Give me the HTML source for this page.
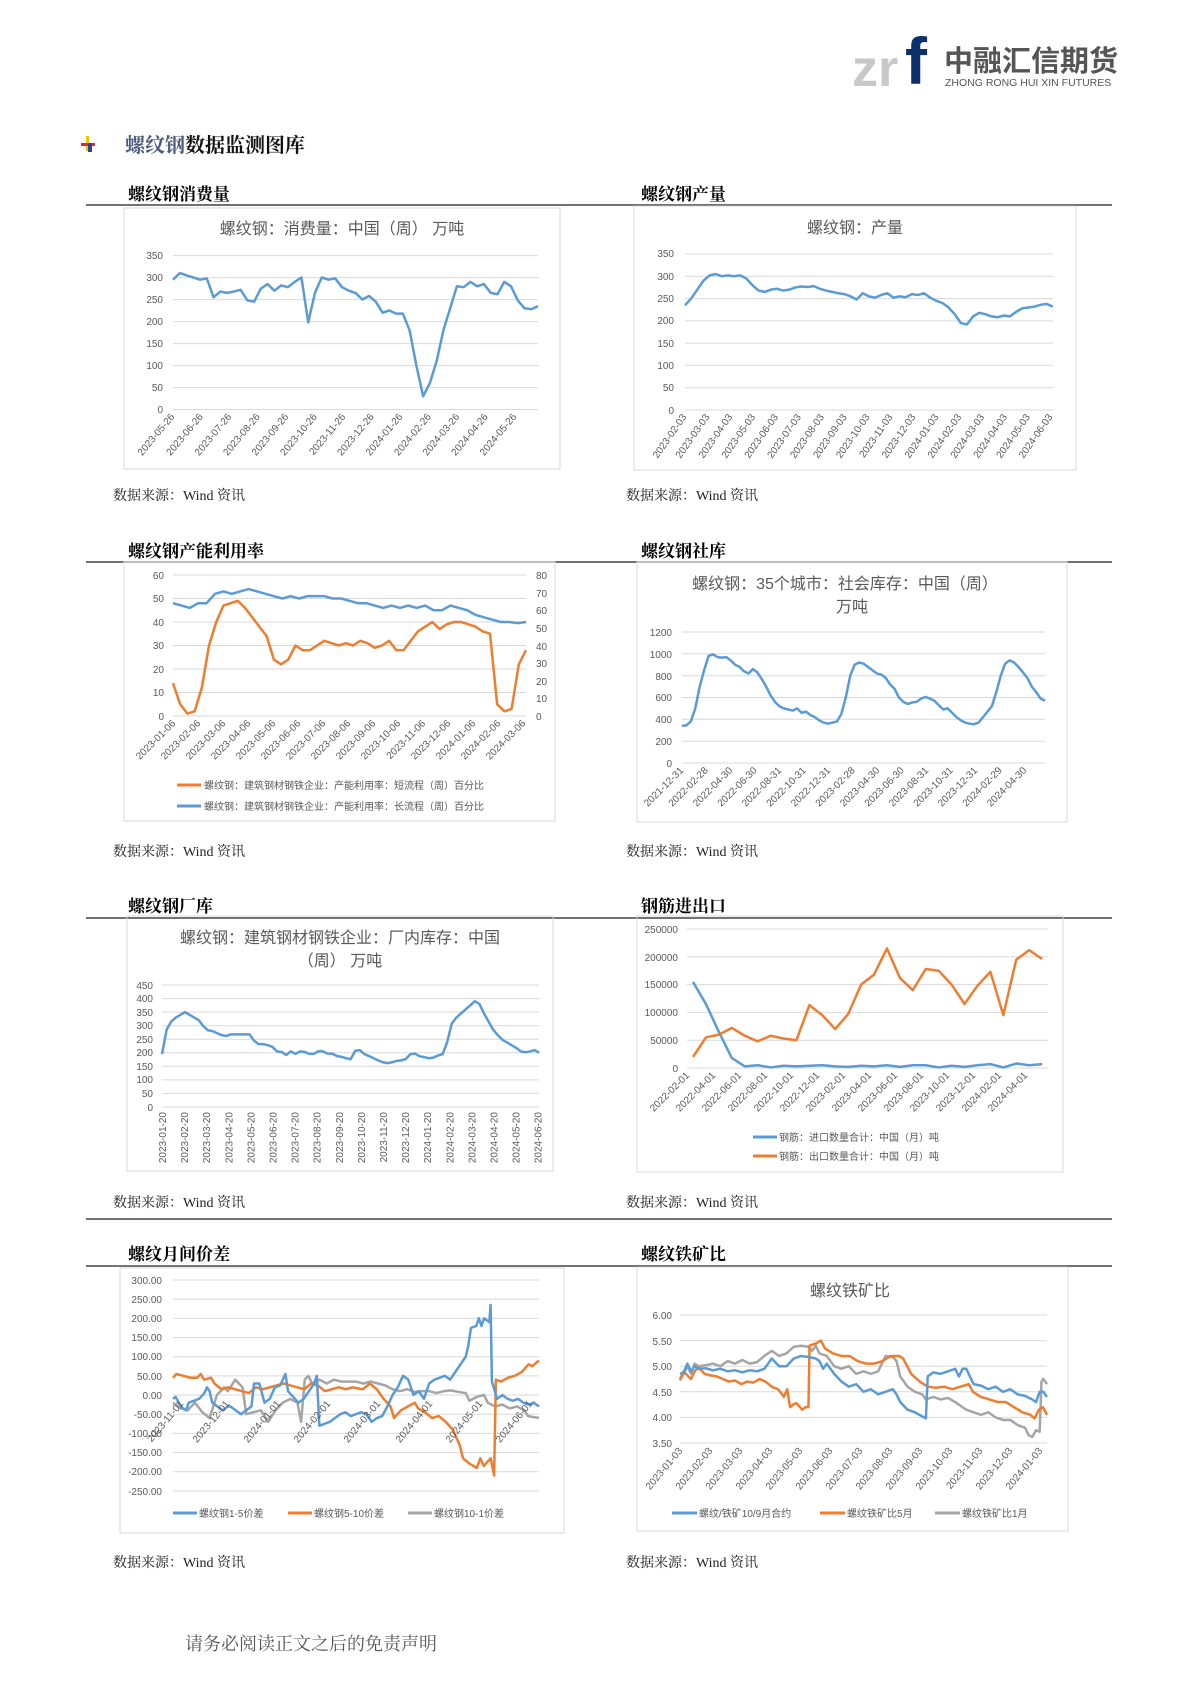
<!DOCTYPE html>
<html><head><meta charset="utf-8"><style>
html,body{margin:0;padding:0;background:#fff;}
svg{display:block;}
.t{font-family:"Liberation Sans","Noto Sans CJK SC",sans-serif;fill:#595959;font-size:10px;}
.ti{font-family:"Liberation Sans","Noto Sans CJK SC",sans-serif;fill:#595959;font-size:16px;}
.h{font-family:"Noto Serif CJK SC","Noto Sans CJK SC",serif;font-weight:bold;fill:#000;font-size:17px;}
.s{font-family:"Liberation Serif","Noto Serif CJK SC",serif;fill:#222;font-size:14px;}
.g{stroke:#d9d9d9;stroke-width:1;}
.box{fill:none;stroke:#d9d9d9;stroke-width:1;}
.l{fill:none;stroke-width:2.5;vector-effect:non-scaling-stroke;stroke-linejoin:round;}
.b{stroke:#5b9bd5;}.o{stroke:#ed7d31;}.y{stroke:#a5a5a5;}
</style></head><body>
<svg width="1190" height="1683" viewBox="0 0 1190 1683" xmlns="http://www.w3.org/2000/svg">
<!-- logo -->
<text x="852" y="86" font-family="Liberation Sans,sans-serif" font-weight="bold" font-size="52" fill="#c8c8c8">zr</text>
<text x="905" y="84" font-family="Liberation Sans,sans-serif" font-weight="bold" font-size="66" fill="#0d2f6b">f</text>
<text x="944" y="71" font-family="Noto Sans CJK SC,sans-serif" font-weight="bold" font-size="29" fill="#555">中融汇信期货</text>
<text x="945" y="86" font-family="Liberation Sans,sans-serif" font-size="10.5" fill="#555">ZHONG RONG HUI XIN FUTURES</text>
<!-- main title -->
<rect x="86" y="136" width="3" height="15" fill="#f2c200"/><rect x="81" y="143" width="14" height="3" fill="#d03030"/><rect x="88" y="143" width="4" height="9" fill="#3040a0"/>
<text x="125" y="152" font-family="Noto Serif CJK SC,serif" font-weight="bold" font-size="20"><tspan fill="#4a5a7a">螺纹钢</tspan><tspan fill="#111">数据监测图库</tspan></text>

<!-- section rows -->
<text class="h" x="128" y="200">螺纹钢消费量</text><text class="h" x="641" y="200">螺纹钢产量</text>
<line x1="86" y1="205" x2="1112" y2="205" stroke="#444" stroke-width="1.5"/>
<text class="s" x="113" y="500">数据来源：Wind 资讯</text><text class="s" x="626" y="500">数据来源：Wind 资讯</text>

<text class="h" x="128" y="557">螺纹钢产能利用率</text><text class="h" x="641" y="557">螺纹钢社库</text>
<line x1="86" y1="562" x2="1112" y2="562" stroke="#444" stroke-width="1.5"/>
<text class="s" x="113" y="856">数据来源：Wind 资讯</text><text class="s" x="626" y="856">数据来源：Wind 资讯</text>

<text class="h" x="128" y="912">螺纹钢厂库</text><text class="h" x="641" y="912">钢筋进出口</text>
<line x1="86" y1="918" x2="1112" y2="918" stroke="#444" stroke-width="1.5"/>
<text class="s" x="113" y="1207">数据来源：Wind 资讯</text><text class="s" x="626" y="1207">数据来源：Wind 资讯</text>
<line x1="86" y1="1219" x2="1112" y2="1219" stroke="#444" stroke-width="1.5"/>

<text class="h" x="128" y="1260">螺纹月间价差</text><text class="h" x="641" y="1260">螺纹铁矿比</text>
<line x1="86" y1="1266" x2="1112" y2="1266" stroke="#444" stroke-width="1.5"/>
<text class="s" x="113" y="1567">数据来源：Wind 资讯</text><text class="s" x="626" y="1567">数据来源：Wind 资讯</text>
<text x="185" y="1650" font-family="Noto Serif CJK SC,serif" font-size="18" fill="#555">请务必阅读正文之后的免责声明</text>

<!-- CHART 1 -->
<rect class="box" x="124" y="208" width="436" height="261"/>
<text class="ti" x="342" y="234" text-anchor="middle">螺纹钢：消费量：中国（周） 万吨</text>
<g class="g"><line x1="173" x2="538" y1="255.6" y2="255.6"/><line x1="173" x2="538" y1="277.6" y2="277.6"/><line x1="173" x2="538" y1="299.6" y2="299.6"/><line x1="173" x2="538" y1="321.6" y2="321.6"/><line x1="173" x2="538" y1="343.6" y2="343.6"/><line x1="173" x2="538" y1="365.6" y2="365.6"/><line x1="173" x2="538" y1="387.6" y2="387.6"/><line x1="173" x2="538" y1="409.5" y2="409.5"/></g>
<g class="t" text-anchor="end"><text x="163" y="259">350</text><text x="163" y="281">300</text><text x="163" y="303">250</text><text x="163" y="325">200</text><text x="163" y="347">150</text><text x="163" y="369">100</text><text x="163" y="391">50</text><text x="163" y="413">0</text></g>
<polyline class="l b" transform="translate(173,409.5) scale(6.76,-0.44)" points="0,295 1,310 2,305 3,300 4,295 5,298 6,255 7,268 8,265 9,268 10,272 11,248 12,245 13,275 14,285 15,270 16,282 17,278 18,290 19,300 20,198 21,265 22,300 23,295 24,298 25,278 26,270 27,265 28,250 29,258 30,245 31,220 32,225 33,218 34,218 35,180 36,100 37,30 38,60 39,110 40,180 41,230 42,280 43,278 44,290 45,280 46,285 47,265 48,262 49,290 50,280 51,248 52,230 53,228 54,235"/>
<g class="t">
<text transform="translate(175,417) rotate(-50)" text-anchor="end">2023-05-26</text><text transform="translate(203.5,417) rotate(-50)" text-anchor="end">2023-06-26</text><text transform="translate(232,417) rotate(-50)" text-anchor="end">2023-07-26</text><text transform="translate(260.5,417) rotate(-50)" text-anchor="end">2023-08-26</text><text transform="translate(289,417) rotate(-50)" text-anchor="end">2023-09-26</text><text transform="translate(317.5,417) rotate(-50)" text-anchor="end">2023-10-26</text><text transform="translate(346,417) rotate(-50)" text-anchor="end">2023-11-26</text><text transform="translate(374.5,417) rotate(-50)" text-anchor="end">2023-12-26</text><text transform="translate(403,417) rotate(-50)" text-anchor="end">2024-01-26</text><text transform="translate(431.5,417) rotate(-50)" text-anchor="end">2024-02-26</text><text transform="translate(460,417) rotate(-50)" text-anchor="end">2024-03-26</text><text transform="translate(488.5,417) rotate(-50)" text-anchor="end">2024-04-26</text><text transform="translate(517,417) rotate(-50)" text-anchor="end">2024-05-26</text></g>

<!-- CHART 2 -->
<rect class="box" x="634" y="206" width="442" height="264"/>
<text class="ti" x="855" y="233" text-anchor="middle">螺纹钢：产量</text>
<g class="g"><line x1="685" x2="1053" y1="254" y2="254"/><line x1="685" x2="1053" y1="276.3" y2="276.3"/><line x1="685" x2="1053" y1="298.6" y2="298.6"/><line x1="685" x2="1053" y1="320.9" y2="320.9"/><line x1="685" x2="1053" y1="343.1" y2="343.1"/><line x1="685" x2="1053" y1="365.4" y2="365.4"/><line x1="685" x2="1053" y1="387.7" y2="387.7"/><line x1="685" x2="1053" y1="410" y2="410"/></g>
<g class="t" text-anchor="end"><text x="674" y="257">350</text><text x="674" y="280">300</text><text x="674" y="302">250</text><text x="674" y="324">200</text><text x="674" y="347">150</text><text x="674" y="369">100</text><text x="674" y="391">50</text><text x="674" y="414">0</text></g>
<polyline class="l b" transform="translate(685,410) scale(6.13,-0.4457)" points="0,235 1,250 2,270 3,290 4,302 5,305 6,300 7,302 8,300 9,302 10,295 11,280 12,268 13,265 14,270 15,272 16,268 17,270 18,275 19,277 20,276 21,278 22,272 23,268 24,265 25,262 26,260 27,255 28,248 29,262 30,255 31,252 32,258 33,262 34,252 35,255 36,253 37,260 38,258 39,262 40,252 41,245 42,240 43,230 44,215 45,195 46,192 47,210 48,218 49,215 50,210 51,208 52,212 53,210 54,220 55,228 56,230 57,232 58,236 59,238 60,232"/>
<g class="t">
<text transform="translate(687,417) rotate(-55)" text-anchor="end">2023-02-03</text><text transform="translate(709.9,417) rotate(-55)" text-anchor="end">2023-03-03</text><text transform="translate(732.8,417) rotate(-55)" text-anchor="end">2023-04-03</text><text transform="translate(755.7,417) rotate(-55)" text-anchor="end">2023-05-03</text><text transform="translate(778.6,417) rotate(-55)" text-anchor="end">2023-06-03</text><text transform="translate(801.5,417) rotate(-55)" text-anchor="end">2023-07-03</text><text transform="translate(824.4,417) rotate(-55)" text-anchor="end">2023-08-03</text><text transform="translate(847.3,417) rotate(-55)" text-anchor="end">2023-09-03</text><text transform="translate(870.2,417) rotate(-55)" text-anchor="end">2023-10-03</text><text transform="translate(893.1,417) rotate(-55)" text-anchor="end">2023-11-03</text><text transform="translate(916,417) rotate(-55)" text-anchor="end">2023-12-03</text><text transform="translate(938.9,417) rotate(-55)" text-anchor="end">2024-01-03</text><text transform="translate(961.8,417) rotate(-55)" text-anchor="end">2024-02-03</text><text transform="translate(984.7,417) rotate(-55)" text-anchor="end">2024-03-03</text><text transform="translate(1007.6,417) rotate(-55)" text-anchor="end">2024-04-03</text><text transform="translate(1030.5,417) rotate(-55)" text-anchor="end">2024-05-03</text><text transform="translate(1053,417) rotate(-55)" text-anchor="end">2024-06-03</text></g>

<!-- CHART 3 -->
<rect class="box" x="124" y="562" width="431" height="259"/>
<g class="g"><line x1="173" x2="526" y1="575" y2="575"/><line x1="173" x2="526" y1="598.5" y2="598.5"/><line x1="173" x2="526" y1="622" y2="622"/><line x1="173" x2="526" y1="645.5" y2="645.5"/><line x1="173" x2="526" y1="669" y2="669"/><line x1="173" x2="526" y1="692.5" y2="692.5"/><line x1="173" x2="526" y1="716" y2="716"/></g>
<g class="t" text-anchor="end"><text x="164" y="579">60</text><text x="164" y="602">50</text><text x="164" y="626">40</text><text x="164" y="649">30</text><text x="164" y="673">20</text><text x="164" y="696">10</text><text x="164" y="720">0</text></g>
<g class="t"><text x="536" y="579">80</text><text x="536" y="597">70</text><text x="536" y="614">60</text><text x="536" y="632">50</text><text x="536" y="650">40</text><text x="536" y="667">30</text><text x="536" y="685">20</text><text x="536" y="702">10</text><text x="536" y="720">0</text></g>
<polyline class="l b" transform="translate(173,716) scale(8.405,-2.35)" points="0,48 1,47 2,46 3,48 4,48 5,52 6,53 7,52 8,53 9,54 10,53 11,52 12,51 13,50 14,51 15,50 16,51 17,51 18,51 19,50 20,50 21,49 22,48 23,48 24,47 25,46 26,47 27,46 28,47 29,46 30,47 31,45 32,45 33,47 34,46 35,45 36,43 37,42 38,41 39,40 40,40 41,39.5 42,40"/>
<polyline class="l o" transform="translate(173,716) scale(7.204,-2.35)" points="0,14 1,5 2,1 3,2 4,12 5,30 6,40 7,47 8,48 9,49 10,46 11,42 12,38 13,34 14,24 15,22 16,24 17,30 18,28 19,28 20,30 21,32 22,31 23,30 24,31 25,30 26,32 27,31 28,29 29,30 30,32 31,28 32,28 33,32 34,36 35,38 36,40 37,37 38,39 39,40 40,40 41,39 42,38 43,36 44,35 45,5 46,2 47,3 48,22 49,28"/>
<g class="t">
<text transform="translate(176,724) rotate(-45)" text-anchor="end">2023-01-06</text><text transform="translate(201,724) rotate(-45)" text-anchor="end">2023-02-06</text><text transform="translate(226,724) rotate(-45)" text-anchor="end">2023-03-06</text><text transform="translate(251,724) rotate(-45)" text-anchor="end">2023-04-06</text><text transform="translate(276,724) rotate(-45)" text-anchor="end">2023-05-06</text><text transform="translate(301,724) rotate(-45)" text-anchor="end">2023-06-06</text><text transform="translate(326,724) rotate(-45)" text-anchor="end">2023-07-06</text><text transform="translate(351,724) rotate(-45)" text-anchor="end">2023-08-06</text><text transform="translate(376,724) rotate(-45)" text-anchor="end">2023-09-06</text><text transform="translate(401,724) rotate(-45)" text-anchor="end">2023-10-06</text><text transform="translate(426,724) rotate(-45)" text-anchor="end">2023-11-06</text><text transform="translate(451,724) rotate(-45)" text-anchor="end">2023-12-06</text><text transform="translate(476,724) rotate(-45)" text-anchor="end">2024-01-06</text><text transform="translate(501,724) rotate(-45)" text-anchor="end">2024-02-06</text><text transform="translate(526,724) rotate(-45)" text-anchor="end">2024-03-06</text></g>
<line x1="177" x2="201" y1="785" y2="785" stroke="#ed7d31" stroke-width="3"/><text class="t" x="204" y="789">螺纹钢：建筑钢材钢铁企业：产能利用率：短流程（周）百分比</text>
<line x1="177" x2="201" y1="806" y2="806" stroke="#5b9bd5" stroke-width="3"/><text class="t" x="204" y="810">螺纹钢：建筑钢材钢铁企业：产能利用率：长流程（周）百分比</text>

<!-- CHART 4 -->
<rect class="box" x="637" y="562" width="430" height="260"/>
<text class="ti" x="845" y="589" text-anchor="middle">螺纹钢：35个城市：社会库存：中国（周）</text>
<text class="ti" x="852" y="612" text-anchor="middle">万吨</text>
<g class="g"><line x1="682" x2="1045" y1="632" y2="632"/><line x1="682" x2="1045" y1="653.8" y2="653.8"/><line x1="682" x2="1045" y1="675.7" y2="675.7"/><line x1="682" x2="1045" y1="697.5" y2="697.5"/><line x1="682" x2="1045" y1="719.3" y2="719.3"/><line x1="682" x2="1045" y1="741.2" y2="741.2"/><line x1="682" x2="1045" y1="763" y2="763"/></g>
<g class="t" text-anchor="end"><text x="672" y="636">1200</text><text x="672" y="658">1000</text><text x="672" y="680">800</text><text x="672" y="701">600</text><text x="672" y="723">400</text><text x="672" y="745">200</text><text x="672" y="767">0</text></g>
<polyline class="l b" transform="translate(682,763) scale(4.427,-0.1092)" points="0,340 1,345 2,380 3,500 4,700 5,850 6,980 7,995 8,970 9,965 10,970 11,940 12,900 13,880 14,840 15,820 16,860 17,830 18,770 19,700 20,620 21,560 22,520 23,500 24,490 25,480 26,500 27,460 28,470 29,440 30,420 31,390 32,370 33,360 34,370 35,380 36,450 37,600 38,800 39,900 40,920 41,910 42,880 43,850 44,820 45,810 46,780 47,720 48,680 49,600 50,560 51,540 52,555 53,560 54,590 55,605 56,590 57,570 58,530 59,490 60,500 61,460 62,420 63,390 64,370 65,360 66,355 67,370 68,420 69,470 70,520 71,650 72,800 73,910 74,940 75,920 76,880 77,830 78,780 79,700 80,650 81,590 82,570"/>
<g class="t">
<text transform="translate(684,771) rotate(-45)" text-anchor="end">2021-12-31</text><text transform="translate(708.5,771) rotate(-45)" text-anchor="end">2022-02-28</text><text transform="translate(733,771) rotate(-45)" text-anchor="end">2022-04-30</text><text transform="translate(757.5,771) rotate(-45)" text-anchor="end">2022-06-30</text><text transform="translate(782,771) rotate(-45)" text-anchor="end">2022-08-31</text><text transform="translate(806.5,771) rotate(-45)" text-anchor="end">2022-10-31</text><text transform="translate(831,771) rotate(-45)" text-anchor="end">2022-12-31</text><text transform="translate(855.5,771) rotate(-45)" text-anchor="end">2023-02-28</text><text transform="translate(880,771) rotate(-45)" text-anchor="end">2023-04-30</text><text transform="translate(904.5,771) rotate(-45)" text-anchor="end">2023-06-30</text><text transform="translate(929,771) rotate(-45)" text-anchor="end">2023-08-31</text><text transform="translate(953.5,771) rotate(-45)" text-anchor="end">2023-10-31</text><text transform="translate(978,771) rotate(-45)" text-anchor="end">2023-12-31</text><text transform="translate(1002.5,771) rotate(-45)" text-anchor="end">2024-02-29</text><text transform="translate(1027,771) rotate(-45)" text-anchor="end">2024-04-30</text></g>

<!-- CHART 5 -->
<rect class="box" x="127" y="916" width="426" height="255"/>
<text class="ti" x="340" y="943" text-anchor="middle">螺纹钢：建筑钢材钢铁企业：厂内库存：中国</text>
<text class="ti" x="340" y="966" text-anchor="middle">（周） 万吨</text>
<g class="g"><line x1="162" x2="539" y1="985" y2="985"/><line x1="162" x2="539" y1="998.6" y2="998.6"/><line x1="162" x2="539" y1="1012.1" y2="1012.1"/><line x1="162" x2="539" y1="1025.7" y2="1025.7"/><line x1="162" x2="539" y1="1039.2" y2="1039.2"/><line x1="162" x2="539" y1="1052.8" y2="1052.8"/><line x1="162" x2="539" y1="1066.3" y2="1066.3"/><line x1="162" x2="539" y1="1079.9" y2="1079.9"/><line x1="162" x2="539" y1="1093.4" y2="1093.4"/><line x1="162" x2="539" y1="1107" y2="1107"/></g>
<g class="t" text-anchor="end"><text x="153" y="989">450</text><text x="153" y="1002">400</text><text x="153" y="1016">350</text><text x="153" y="1029">300</text><text x="153" y="1043">250</text><text x="153" y="1056">200</text><text x="153" y="1070">150</text><text x="153" y="1083">100</text><text x="153" y="1097">50</text><text x="153" y="1111">0</text></g>
<polyline class="l b" transform="translate(162,1107) scale(4.6,-0.2711)" points="0,195 1,285 2,315 3,330 4,340 5,350 6,340 7,330 8,320 9,298 10,283 11,280 12,272 13,265 14,262 15,268 16,268 17,268 18,268 19,268 20,245 21,232 22,232 23,228 24,222 25,205 26,203 27,192 28,205 29,196 30,205 31,203 32,196 33,196 34,206 35,205 36,197 37,197 38,188 39,185 40,180 41,176 42,207 43,210 44,195 45,188 46,180 47,172 48,165 49,162 50,165 51,170 52,172 53,177 54,195 55,197 56,187 57,184 58,180 59,182 60,190 61,195 62,240 63,308 64,330 65,345 66,360 67,375 68,390 69,380 70,345 71,315 72,285 73,265 74,248 75,238 76,228 77,218 78,205 79,202 80,205 81,210 82,200"/>
<g class="t">
<text transform="translate(166,1112) rotate(-90)" text-anchor="end">2023-01-20</text><text transform="translate(188.1,1112) rotate(-90)" text-anchor="end">2023-02-20</text><text transform="translate(210.2,1112) rotate(-90)" text-anchor="end">2023-03-20</text><text transform="translate(232.3,1112) rotate(-90)" text-anchor="end">2023-04-20</text><text transform="translate(254.4,1112) rotate(-90)" text-anchor="end">2023-05-20</text><text transform="translate(276.5,1112) rotate(-90)" text-anchor="end">2023-06-20</text><text transform="translate(298.6,1112) rotate(-90)" text-anchor="end">2023-07-20</text><text transform="translate(320.7,1112) rotate(-90)" text-anchor="end">2023-08-20</text><text transform="translate(342.8,1112) rotate(-90)" text-anchor="end">2023-09-20</text><text transform="translate(364.9,1112) rotate(-90)" text-anchor="end">2023-10-20</text><text transform="translate(387,1112) rotate(-90)" text-anchor="end">2023-11-20</text><text transform="translate(409.1,1112) rotate(-90)" text-anchor="end">2023-12-20</text><text transform="translate(431.2,1112) rotate(-90)" text-anchor="end">2024-01-20</text><text transform="translate(453.3,1112) rotate(-90)" text-anchor="end">2024-02-20</text><text transform="translate(475.4,1112) rotate(-90)" text-anchor="end">2024-03-20</text><text transform="translate(497.5,1112) rotate(-90)" text-anchor="end">2024-04-20</text><text transform="translate(519.6,1112) rotate(-90)" text-anchor="end">2024-05-20</text><text transform="translate(541.7,1112) rotate(-90)" text-anchor="end">2024-06-20</text></g>

<!-- CHART 6 -->
<rect class="box" x="637" y="916" width="426" height="256"/>
<g class="g"><line x1="687" x2="1048" y1="929" y2="929"/><line x1="687" x2="1048" y1="956.8" y2="956.8"/><line x1="687" x2="1048" y1="984.6" y2="984.6"/><line x1="687" x2="1048" y1="1012.4" y2="1012.4"/><line x1="687" x2="1048" y1="1040.2" y2="1040.2"/><line x1="687" x2="1048" y1="1068" y2="1068"/></g>
<g class="t" text-anchor="end"><text x="678" y="933">250000</text><text x="678" y="961">200000</text><text x="678" y="988">150000</text><text x="678" y="1016">100000</text><text x="678" y="1044">50000</text><text x="678" y="1072">0</text></g>
<polyline class="l b" transform="translate(693,1068) scale(12.93,-0.556)" points="0,155 1,115 2,65 3,18 4,3 5,5 6,1 7,4 8,3 9,4 10,5 11,3 12,2 13,4 14,3 15,5 16,2 17,5 18,5 19,1 20,4 21,2 22,5 23,7 24,1 25,8 26,5 27,7"/>
<polyline class="l o" transform="translate(693,1068) scale(12.93,-0.556)" points="0,20 1,55 2,60 3,72 4,58 5,48 6,58 7,53 8,50 9,113 10,95 11,70 12,97 13,150 14,168 15,215 16,162 17,140 18,178 19,175 20,150 21,115 22,148 23,173 24,95 25,195 26,212 27,196"/>
<g class="t">
<text transform="translate(690,1076) rotate(-45)" text-anchor="end">2022-02-01</text><text transform="translate(716,1076) rotate(-45)" text-anchor="end">2022-04-01</text><text transform="translate(742,1076) rotate(-45)" text-anchor="end">2022-06-01</text><text transform="translate(768,1076) rotate(-45)" text-anchor="end">2022-08-01</text><text transform="translate(794,1076) rotate(-45)" text-anchor="end">2022-10-01</text><text transform="translate(820,1076) rotate(-45)" text-anchor="end">2022-12-01</text><text transform="translate(846,1076) rotate(-45)" text-anchor="end">2023-02-01</text><text transform="translate(872,1076) rotate(-45)" text-anchor="end">2023-04-01</text><text transform="translate(898,1076) rotate(-45)" text-anchor="end">2023-06-01</text><text transform="translate(924,1076) rotate(-45)" text-anchor="end">2023-08-01</text><text transform="translate(950,1076) rotate(-45)" text-anchor="end">2023-10-01</text><text transform="translate(976,1076) rotate(-45)" text-anchor="end">2023-12-01</text><text transform="translate(1002,1076) rotate(-45)" text-anchor="end">2024-02-01</text><text transform="translate(1028,1076) rotate(-45)" text-anchor="end">2024-04-01</text></g>
<line x1="753" x2="777" y1="1137" y2="1137" stroke="#5b9bd5" stroke-width="3"/><text class="t" x="779" y="1141">钢筋：进口数量合计：中国（月）吨</text>
<line x1="753" x2="777" y1="1156" y2="1156" stroke="#ed7d31" stroke-width="3"/><text class="t" x="779" y="1160">钢筋：出口数量合计：中国（月）吨</text>

<!-- CHART 7 -->
<rect class="box" x="120" y="1268" width="444" height="265"/>
<g class="g"><line x1="173" x2="539" y1="1280" y2="1280"/><line x1="173" x2="539" y1="1299.2" y2="1299.2"/><line x1="173" x2="539" y1="1318.4" y2="1318.4"/><line x1="173" x2="539" y1="1337.5" y2="1337.5"/><line x1="173" x2="539" y1="1356.7" y2="1356.7"/><line x1="173" x2="539" y1="1375.9" y2="1375.9"/><line x1="173" x2="539" y1="1395" y2="1395"/><line x1="173" x2="539" y1="1414.2" y2="1414.2"/><line x1="173" x2="539" y1="1433.4" y2="1433.4"/><line x1="173" x2="539" y1="1452.6" y2="1452.6"/><line x1="173" x2="539" y1="1471.8" y2="1471.8"/><line x1="173" x2="539" y1="1491" y2="1491"/></g>
<g class="t" text-anchor="end"><text x="162" y="1284">300.00</text><text x="162" y="1303">250.00</text><text x="162" y="1322">200.00</text><text x="162" y="1341">150.00</text><text x="162" y="1360">100.00</text><text x="162" y="1380">50.00</text><text x="162" y="1399">0.00</text><text x="162" y="1418">-50.00</text><text x="162" y="1437">-100.00</text><text x="162" y="1456">-150.00</text><text x="162" y="1475">-200.00</text><text x="162" y="1495">-250.00</text></g>
<polyline class="l y" transform="translate(173,1395) scale(3.66,-0.3836)" points="0,-20 2,-35 4,-40 6,-20 8,-45 10,-60 12,0 14,20 15,10 17,40 19,20 20,-50 22,-45 24,-40 26,-70 28,-40 30,-20 32,-10 34,-20 35,-70 36,40 37,50 38,30 40,40 42,30 44,40 46,35 48,35 50,35 52,30 54,35 56,30 58,25 60,15 62,10 64,15 66,8 68,10 70,10 72,5 74,10 76,12 78,8 80,5 81,-15 83,-5 85,0 86,-20 88,-30 90,-25 92,-35 94,-30 96,-40 97,-55 100,-60"/>
<polyline class="l o" transform="translate(173,1395) scale(3.453,-0.3836)" points="0,45 1,55 3,50 5,45 7,45 8,55 9,40 11,45 12,30 14,15 16,20 18,15 20,10 22,5 24,20 26,15 28,20 30,25 32,30 34,25 36,20 38,15 40,30 42,25 44,10 46,15 48,20 50,15 52,20 55,15 57,30 59,15 61,-10 63,-30 64,-60 66,-40 68,-30 70,-20 71,-35 73,-45 75,-60 77,-55 79,-70 81,-90 83,-130 84,-165 86,-180 88,-190 89,-165 90,-185 92,-165 93,-210 93.5,40 95,35 97,45 99,50 101,60 103,80 104,75 106,90"/>
<polyline class="l b" transform="translate(173,1395) scale(2.614,-0.3836)" points="0,-10 1,-5 3,-30 5,-40 6,-20 8,-15 10,-10 12,5 13,20 14,10 15,-20 17,-30 19,-40 21,-30 22,-30 24,-40 26,-50 28,-40 30,-30 31,30 33,30 35,-20 37,-10 39,20 41,25 43,55 44,10 46,-5 48,-20 50,-10 52,10 54,30 55,50 56,-80 58,-75 60,-70 62,-60 64,-50 66,-45 68,-55 70,-50 72,-45 74,-50 76,-70 78,-60 80,-55 82,-30 84,0 86,20 88,50 90,40 92,0 94,10 96,-10 98,30 100,40 102,45 104,50 106,40 108,60 110,80 112,100 113,130 114,175 116,180 117,200 118,180 119,200 120,195 121,190 121.5,235 122,35 124,-10 126,0 128,-10 130,-15 132,-10 134,-20 136,-25 138,-20 140,-30"/>
<g class="t">
<text transform="translate(184,1404) rotate(-50)" text-anchor="end">2023-11-01</text><text transform="translate(230,1404) rotate(-50)" text-anchor="end">2023-12-01</text><text transform="translate(281,1404) rotate(-50)" text-anchor="end">2024-01-01</text><text transform="translate(331,1404) rotate(-50)" text-anchor="end">2024-02-01</text><text transform="translate(381,1404) rotate(-50)" text-anchor="end">2024-03-01</text><text transform="translate(433,1404) rotate(-50)" text-anchor="end">2024-04-01</text><text transform="translate(483,1404) rotate(-50)" text-anchor="end">2024-05-01</text><text transform="translate(533,1404) rotate(-50)" text-anchor="end">2024-06-01</text></g>
<line x1="173" x2="197" y1="1513" y2="1513" stroke="#5b9bd5" stroke-width="3"/><text class="t" x="199" y="1517">螺纹钢1-5价差</text>
<line x1="288" x2="312" y1="1513" y2="1513" stroke="#ed7d31" stroke-width="3"/><text class="t" x="314" y="1517">螺纹钢5-10价差</text>
<line x1="408" x2="432" y1="1513" y2="1513" stroke="#a5a5a5" stroke-width="3"/><text class="t" x="434" y="1517">螺纹钢10-1价差</text>

<!-- CHART 8 -->
<rect class="box" x="637" y="1267" width="431" height="264"/>
<text class="ti" x="850" y="1296" text-anchor="middle">螺纹铁矿比</text>
<g class="g"><line x1="680" x2="1047" y1="1315" y2="1315"/><line x1="680" x2="1047" y1="1340.6" y2="1340.6"/><line x1="680" x2="1047" y1="1366.2" y2="1366.2"/><line x1="680" x2="1047" y1="1391.8" y2="1391.8"/><line x1="680" x2="1047" y1="1417.4" y2="1417.4"/><line x1="680" x2="1047" y1="1443" y2="1443"/></g>
<g class="t" text-anchor="end"><text x="672" y="1319">6.00</text><text x="672" y="1345">5.50</text><text x="672" y="1370">5.00</text><text x="672" y="1396">4.50</text><text x="672" y="1421">4.00</text><text x="672" y="1447">3.50</text></g>
<polyline class="l y" transform="translate(680,1622.2) scale(3.67,-51.2)" points="0,4.72 1,4.85 2,5.0 3,4.85 4,5.05 5,5.0 7,5.02 9,5.05 11,5.0 13,5.1 15,5.05 17,5.12 19,5.05 21,5.08 23,5.2 25,5.3 27,5.2 29,5.25 31,5.38 33,5.4 35,5.38 36,5.3 37,5.4 38,5.25 40,5.2 42,5.0 44,4.95 46,5.0 48,4.85 50,4.9 52,4.85 54,4.9 56,5.2 58,5.18 59,5.1 60,4.8 62,4.6 64,4.5 66,4.45 67,4.35 69,4.4 71,4.35 73,4.38 75,4.3 76,4.25 78,4.15 80,4.1 82,4.05 84,4.1 86,4.0 88,3.95 90,3.95 92,3.85 94,3.8 95,3.65 96,3.62 97,3.75 98,3.72 98.5,4.7 99,4.75 100,4.65"/>
<polyline class="l o" transform="translate(680,1622.2) scale(3.67,-51.2)" points="0,4.75 1,4.9 2,4.82 3,4.75 4,4.9 5,4.98 6.7,4.85 8.3,4.82 10,4.8 11.7,4.75 13.3,4.7 15,4.72 16.7,4.65 18.3,4.7 20,4.68 21.7,4.75 23.3,4.7 25,4.6 26.7,4.55 27.5,4.48 28.3,4.4 29.2,4.55 30,4.2 30.8,4.25 31.7,4.28 33.3,4.15 34.2,4.2 35,4.2 35.3,5.4 37.2,5.45 38.4,5.5 39.5,5.35 41.7,5.25 44,5.2 46.2,5.2 48.4,5.1 50.7,5.05 52.9,5.05 55.2,5.1 57.4,5.2 59.7,5.2 60.8,5.15 63,4.85 65.3,4.7 67.5,4.6 69.7,4.58 72,4.6 74.2,4.55 76.4,4.6 78.7,4.65 79.8,4.5 82,4.4 84.3,4.35 86.6,4.3 88.8,4.3 91,4.2 93.3,4.1 95.5,4.05 96.6,3.98 97.8,4.15 98.9,4.2 100,4.05"/>
<polyline class="l b" transform="translate(680,1622.2) scale(3.67,-51.2)" points="0,4.85 1,4.88 2,5.05 3,4.9 4,5.0 5,4.95 7,4.96 9,4.92 11,4.95 13,4.9 15,4.92 17,4.88 19,4.92 21,4.9 23,4.95 25,5.15 27,5.0 29,5.0 31,5.15 33,5.2 35,5.18 37,5.15 38,5.1 39,4.95 40,5.05 42,4.85 44,4.7 46,4.6 48,4.65 50,4.5 52,4.55 54,4.45 56,4.5 58,4.55 59,4.45 60,4.3 62,4.15 64,4.1 66,4.02 67,3.98 67.5,4.8 69,4.88 71,4.85 73,4.9 75,4.95 76,4.8 77,4.95 78,4.95 80,4.65 82,4.62 84,4.55 86,4.6 88,4.5 90,4.55 92,4.45 94,4.42 96,4.35 97,4.3 98,4.5 99,4.5 100,4.4"/>
<g class="t">
<text transform="translate(683,1451) rotate(-50)" text-anchor="end">2023-01-03</text><text transform="translate(713,1451) rotate(-50)" text-anchor="end">2023-02-03</text><text transform="translate(743,1451) rotate(-50)" text-anchor="end">2023-03-03</text><text transform="translate(773,1451) rotate(-50)" text-anchor="end">2023-04-03</text><text transform="translate(803,1451) rotate(-50)" text-anchor="end">2023-05-03</text><text transform="translate(833,1451) rotate(-50)" text-anchor="end">2023-06-03</text><text transform="translate(863,1451) rotate(-50)" text-anchor="end">2023-07-03</text><text transform="translate(893,1451) rotate(-50)" text-anchor="end">2023-08-03</text><text transform="translate(923,1451) rotate(-50)" text-anchor="end">2023-09-03</text><text transform="translate(953,1451) rotate(-50)" text-anchor="end">2023-10-03</text><text transform="translate(983,1451) rotate(-50)" text-anchor="end">2023-11-03</text><text transform="translate(1013,1451) rotate(-50)" text-anchor="end">2023-12-03</text><text transform="translate(1043,1451) rotate(-50)" text-anchor="end">2024-01-03</text></g>
<line x1="672" x2="697" y1="1513" y2="1513" stroke="#5b9bd5" stroke-width="3"/><text class="t" x="699" y="1517">螺纹/铁矿10/9月合约</text>
<line x1="820" x2="845" y1="1513" y2="1513" stroke="#ed7d31" stroke-width="3"/><text class="t" x="847" y="1517">螺纹铁矿比5月</text>
<line x1="935" x2="960" y1="1513" y2="1513" stroke="#a5a5a5" stroke-width="3"/><text class="t" x="962" y="1517">螺纹铁矿比1月</text>
</svg>
</body></html>
